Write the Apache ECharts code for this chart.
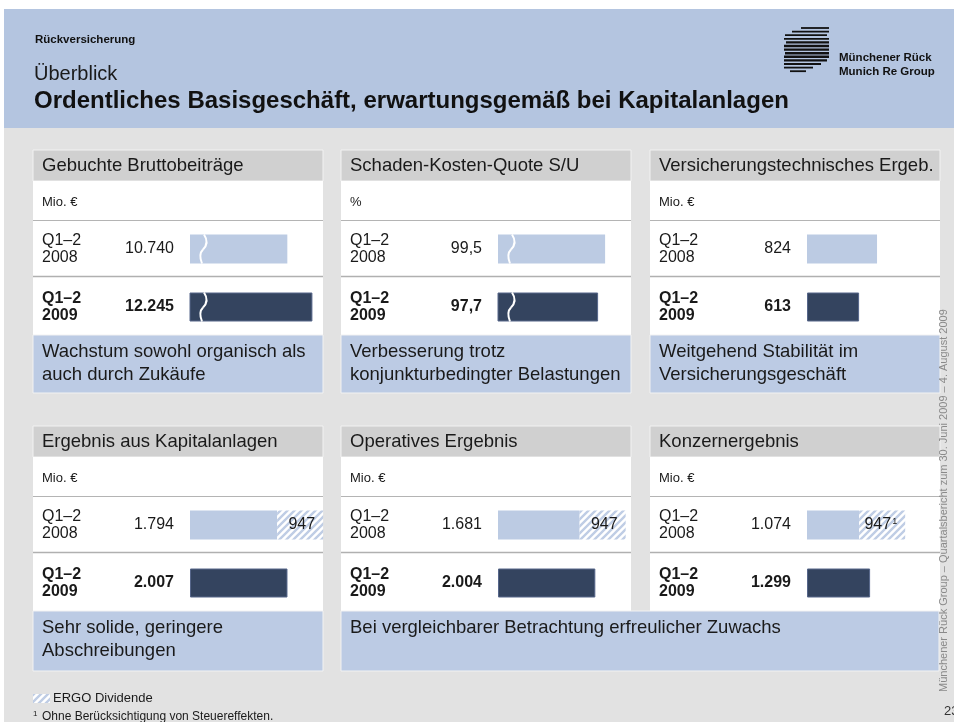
<!DOCTYPE html>
<html>
<head>
<meta charset="utf-8">
<title>Überblick</title>
<script src="https://cdn.jsdelivr.net/npm/echarts@6/dist/echarts.min.js"></script>
<style>
html,body{margin:0;padding:0;background:#fff;}
#main{width:954px;height:722px;}
</style>
</head>
<body>
<div id="main"></div>
<script>
//数据
var panelTitles=['Gebuchte Bruttobeiträge','Schaden-Kosten-Quote S/U','Versicherungstechnisches Ergeb.','Ergebnis aus Kapitalanlagen','Operatives Ergebnis','Konzernergebnis'];
var unitLabels=['Mio. €','%','Mio. €','Mio. €','Mio. €','Mio. €'];
var periods=['Q1–2\n2008','Q1–2\n2009'];
var values2008=[10740,99.5,824,1794,1681,1074];
var values2009=[12245,97.7,613,2007,2004,1299];
var ergoDividend=[null,null,null,947,947,947];
var labels2008=['10.740','99,5','824','1.794','1.681','1.074'];
var labels2009=['12.245','97,7','613','2.007','2.004','1.299'];
var ergoLabels=['','','','947','947','947'];
var ergoNotes=['','','','','','1'];
var axisMin=[4900,72,0,0,0,0];
var axisMax=[13000,110,1000,2800,2800,2800];
var brokenAxis=[true,true,false,false,false,false];
var comments=['Wachstum sowohl organisch als\nauch durch Zukäufe','Verbesserung trotz\nkonjunkturbedingter Belastungen','Weitgehend Stabilität im\nVersicherungsgeschäft','Sehr solide, geringere\nAbschreibungen','Bei vergleichbarer Betrachtung erfreulicher Zuwachs'];

//版面
var FONT='"Liberation Sans", Arial, sans-serif';
var panelX=[33,341,650];
var rowTop=[150,426];
var panelW=290;
var gridW=[135,148,85,136,136,136];
var commentPos=[[0,1],[1,1],[2,1],[3,1],[4,2]];
var LIGHT='#bccbe3';
var DARK='#34445f';
var TEXT='#1a1a1a';

function makeHatch(){
	var c=document.createElement('canvas');
	c.width=7;c.height=7;
	var ctx=c.getContext('2d');
	ctx.fillStyle='#ffffff';
	ctx.fillRect(0,0,7,7);
	ctx.strokeStyle='#bfcde5';
	ctx.lineWidth=2.4;
	ctx.beginPath();
	ctx.moveTo(-2,9);ctx.lineTo(9,-2);
	ctx.moveTo(-5,5);ctx.lineTo(5,-5);
	ctx.moveTo(2,12);ctx.lineTo(12,2);
	ctx.stroke();
	return c;
}
var hatch=makeHatch();

function txt(x,y,text,font,color,align,valign,extra){
	var el={type:'text',x:x,y:y,silent:true,style:{text:text,font:font,fill:color||TEXT,
		textAlign:align||'left',align:align||'left',textVerticalAlign:valign||'middle',verticalAlign:valign||'middle'}};
	if(extra){
		for(var key in extra){ el.style[key]=extra[key]; }
	}
	return el;
}
function rect(x,y,w,h,fill,stroke){
	return {type:'rect',silent:true,shape:{x:x,y:y,width:w,height:h},style:{fill:fill,stroke:stroke||null,lineWidth:1}};
}
function line(x1,y1,x2,y2,color,w){
	return {type:'line',silent:true,shape:{x1:x1,y1:y1,x2:x2,y2:y2},style:{stroke:color,lineWidth:w||1}};
}

//断轴符号
function makeBreak(k){
	return function(params,api){
		var p=api.coord([axisMin[k],api.value(1)]);
		var h=29;
		var x=p[0]+13;
		var t=p[1]-h/2;
		var b=p[1]+h/2;
		var st={stroke:'#ffffff',lineWidth:2,fill:null};
		return {type:'group',children:[
			{type:'bezierCurve',shape:{x1:x+1,y1:t,cpx1:x+5,cpy1:t+6,cpx2:x+4,cpy2:t+11,x2:x,y2:t+15},style:st},
			{type:'bezierCurve',shape:{x1:x,y1:t+15,cpx1:x-4,cpy1:t+19,cpx2:x-3,cpy2:t+24,x2:x-1,y2:b},style:st}
		]};
	};
}

var g=[];
var grids=[],xAxes=[],yAxes=[],series=[];

//页眉
g.push(rect(4,9,950,119,'#b4c5e0'));
g.push(rect(4,128,950,594,'#e2e2e2'));
g.push(txt(35,40,'Rückversicherung','bold 11.5px '+FONT,'#111'));
g.push(txt(34,74,'Überblick','20px '+FONT,'#1a1a1a'));
g.push(txt(34,101,'Ordentliches Basisgeschäft, erwartungsgemäß bei Kapitalanlagen','bold 24px '+FONT,'#111'));
//标志
var logo=[[28,801,829],[31.6,792,829],[35.2,785,827],[38.8,784,829],[42.4,786,829],[46,784,829],[49.6,784,829],[53.2,785,829],[56.8,784,829],[60.4,784,827],[64,784,821],[67.6,784,813],[71.2,790,806]];
for(var i=0;i<logo.length;i++){
	g.push(line(logo[i][1],logo[i][0],logo[i][2],logo[i][0],'#111',(i>3&&i<10)?2.4:1.8));
}
g.push(txt(839,58,'Münchener Rück','bold 11.5px '+FONT,'#111'));
g.push(txt(839,72,'Munich Re Group','bold 11.5px '+FONT,'#111'));

//面板
for(var k=0;k<6;k++){
	var c=k%3,r=Math.floor(k/3);
	var px=panelX[c],py=rowTop[r];
	g.push(rect(px,py,panelW,31,'#d0d0d0','#f2f2f2'));
	g.push(rect(px,py+31,panelW,154,'#ffffff'));
	g.push(txt(px+9,py+16,panelTitles[k],'18.5px '+FONT,TEXT));
	g.push(txt(px+9,py+52,unitLabels[k],'13px '+FONT,TEXT));
	g.push(line(px,py+70.5,px+panelW,py+70.5,'#b4b4b4',1));
	g.push(line(px,py+126.5,px+panelW,py+126.5,'#b0b0b0',1.5));

	grids.push({left:px+157,top:py+70,width:gridW[k],height:116,outerBoundsMode:'none'});
	xAxes.push({type:'value',gridIndex:k,min:axisMin[k],max:axisMax[k],show:false});
	(function(k){
		yAxes.push({type:'category',gridIndex:k,position:'left',inverse:true,data:periods,
			axisLine:{show:false},axisTick:{show:false},splitLine:{show:false},
			axisLabel:{interval:0,margin:16,fontFamily:FONT,
				formatter:function(v,i){
					return i===1?'{b|'+labels2009[k]+'}':'{n|'+labels2008[k]+'}';
				},
				rich:{n:{fontSize:16,color:TEXT,fontFamily:FONT},b:{fontSize:16,fontWeight:'bold',color:TEXT,fontFamily:FONT}}}
		});
		yAxes.push({type:'category',gridIndex:k,position:'left',inverse:true,data:periods,
			axisLine:{show:false},axisTick:{show:false},splitLine:{show:false},
			axisLabel:{interval:0,margin:148,align:'left',fontFamily:FONT,
				formatter:function(v,i){
					var tag=i===1?'b':'n';
					return v.split('\n').map(function(s){return '{'+tag+'|'+s+'}';}).join('\n');
				},
				rich:{n:{fontSize:16,lineHeight:17,align:'left',color:TEXT,fontFamily:FONT},
					b:{fontSize:16,lineHeight:17,align:'left',fontWeight:'bold',color:TEXT,fontFamily:FONT}}}
		});
		series.push({type:'bar',name:panelTitles[k],xAxisIndex:k,yAxisIndex:2*k,stack:'p'+k,barWidth:29,silent:true,
			data:[{value:values2008[k],itemStyle:{color:LIGHT}},
				{value:values2009[k],itemStyle:{color:DARK,borderColor:'#56668a',borderWidth:1}}]
		});
		if(ergoDividend[k]!=null){
			series.push({type:'bar',name:'ERGO Dividende',xAxisIndex:k,yAxisIndex:2*k,stack:'p'+k,barWidth:29,silent:true,
				itemStyle:{color:{image:hatch,repeat:'repeat'}},
				label:{show:true,position:'insideRight',distance:8,
					formatter:function(){
						return '{n|'+ergoLabels[k]+'}'+(ergoNotes[k]?'{s|'+ergoNotes[k]+'}':'');
					},
					rich:{n:{fontSize:16,color:TEXT,fontFamily:FONT},s:{fontSize:9,color:TEXT,fontFamily:FONT,verticalAlign:'top',padding:[0,0,0,1]}}},
				data:[ergoDividend[k],'-']
			});
		}
		if(brokenAxis[k]){
			series.push({type:'custom',xAxisIndex:k,yAxisIndex:2*k,z:5,silent:true,
				renderItem:makeBreak(k),
				data:[[values2008[k],0],[values2009[k],1]]
			});
		}
	})(k);
}

//评语
for(var m=0;m<commentPos.length;m++){
	var idx=commentPos[m][0],span=commentPos[m][1];
	var cx=panelX[idx%3],cy=rowTop[Math.floor(idx/3)]+185;
	var w=panelW*span+(span-1)*(panelX[1]-panelX[0]-panelW);
	var h=idx<3?58:60;
	g.push(rect(cx,cy,w,h,'#bccbe4','#f2f2f2'));
	g.push(txt(cx+9,cy+5.5,comments[m],'18.5px '+FONT,TEXT,'left','top',{lineHeight:23}));
}

//页脚
g.push({type:'rect',silent:true,shape:{x:33,y:694,width:17,height:9},style:{fill:{image:hatch,repeat:'repeat'}}});
g.push(txt(53,698,'ERGO Dividende','13px '+FONT,TEXT));
g.push(txt(33,714,'1','8px '+FONT,TEXT));
g.push(txt(42,717,'Ohne Berücksichtigung von Steuereffekten.','12px '+FONT,TEXT));
g.push(txt(944,711,'23','13px '+FONT,'#333'));
g.push({type:'text',x:944,y:692,rotation:Math.PI/2,silent:true,
	style:{text:'Münchener Rück Group – Quartalsbericht zum 30. Juni 2009 – 4. August 2009',font:'11px '+FONT,fill:'#8a8a8a',
		textAlign:'left',align:'left',textVerticalAlign:'middle',verticalAlign:'middle'}});

var myChart=echarts.init(document.getElementById('main'),null,{renderer:'canvas'});
myChart.setOption({
	animation:false,
	backgroundColor:'#ffffff',
	graphic:g,
	grid:grids,
	xAxis:xAxes,
	yAxis:yAxes,
	series:series
});
</script>
</body>
</html>
